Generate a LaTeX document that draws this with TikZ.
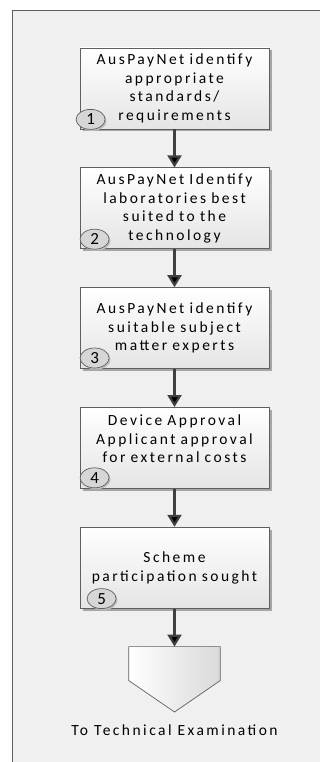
\documentclass[tikz,border=0pt]{standalone}
\usepackage{fontspec}
\setmainfont{Carlito}[LetterSpace=16]
\usepackage{xcolor}
\usepackage{tikz}
\usetikzlibrary{calc, positioning, shapes.geometric, shadows, arrows.meta}

\definecolor{pagegray}{HTML}{F0F0F0}
\definecolor{linegray}{HTML}{5F5F5F}
\definecolor{arrowgray}{HTML}{404040}
\definecolor{badgegray}{HTML}{D6D6D6}

\begin{document}
\begin{tikzpicture}[x=1pt,y=1pt,node distance=38pt,
                    step node/.style={rectangle,draw=linegray,line width=0.8pt,
                      top color=white,bottom color=pagegray!90!gray,
                      minimum width=189pt,minimum height=81pt,inner sep=0pt,
                      text width=187pt,align=center,font=\fontsize{15.5}{18.5}\selectfont,
                      drop shadow={shadow xshift=2.5pt,shadow yshift=-2.5pt,fill=gray!70,opacity=1}},
                    badge/.style={ellipse,draw=linegray,line width=0.7pt,fill=badgegray,
                      minimum width=29pt,minimum height=20pt,inner sep=0pt,
                      font=\fontsize{17}{17}\selectfont,
                      drop shadow={shadow xshift=1.5pt,shadow yshift=-1.5pt,fill=gray!50,opacity=1}},
                    flow/.style={draw=arrowgray,line width=2.2pt,
                      -{Triangle[width=14pt,length=12pt]}}]

  \useasboundingbox (0,0) rectangle (320,-762);
  \draw[fill=pagegray,draw=linegray,line width=0.9pt] (12,-10) rectangle (340,-780);

  \node[step node] (1) at (174.5,-88.5) {AusPayNet identify\\appropriate\\standards/\\requirements};
  \node[step node] (2) [below=of 1] {AusPayNet Identify\\laboratories best\\suited to the\\technology};
  \node[step node] (3) [below=of 2] {AusPayNet identify\\suitable subject\\matter experts};
  \node[step node] (4) [below=of 3] {Device Approval\\Applicant approval\\for external costs\\~};
  \node[step node] (5) [below=of 4] {Scheme\\participation sought};

  \node (out) [below=of 5,minimum width=91pt,minimum height=65pt,inner sep=0pt] {};
  \draw[draw=linegray,line width=0.7pt,left color=white,right color=pagegray!80!gray]
    (out.north west) -- (out.north east) -- ([yshift=-34pt]out.north east)
    -- (out.south) -- ([yshift=-34pt]out.north west) -- cycle;
  \node (outtext) [below=9pt of out,font=\fontsize{15.5}{18}\selectfont] {To Technical Examination};

  \node[badge] (Badge1) at ([shift={(11pt,10pt)}]1.south west) {1};
  \node[badge] (Badge2) at ([shift={(15pt,10pt)}]2.south west) {2};
  \node[badge] (Badge3) at ([shift={(15pt,11pt)}]3.south west) {3};
  \node[badge] (Badge4) at ([shift={(15pt,11pt)}]4.south west) {4};
  \node[badge] (Badge5) at ([shift={(22pt,10pt)}]5.south west) {5};

  \path[flow]
    (1) edge (2)
    (2) edge (3)
    (3) edge (4)
    (4) edge (5)
    (5) edge (out);
\end{tikzpicture}
\end{document}
